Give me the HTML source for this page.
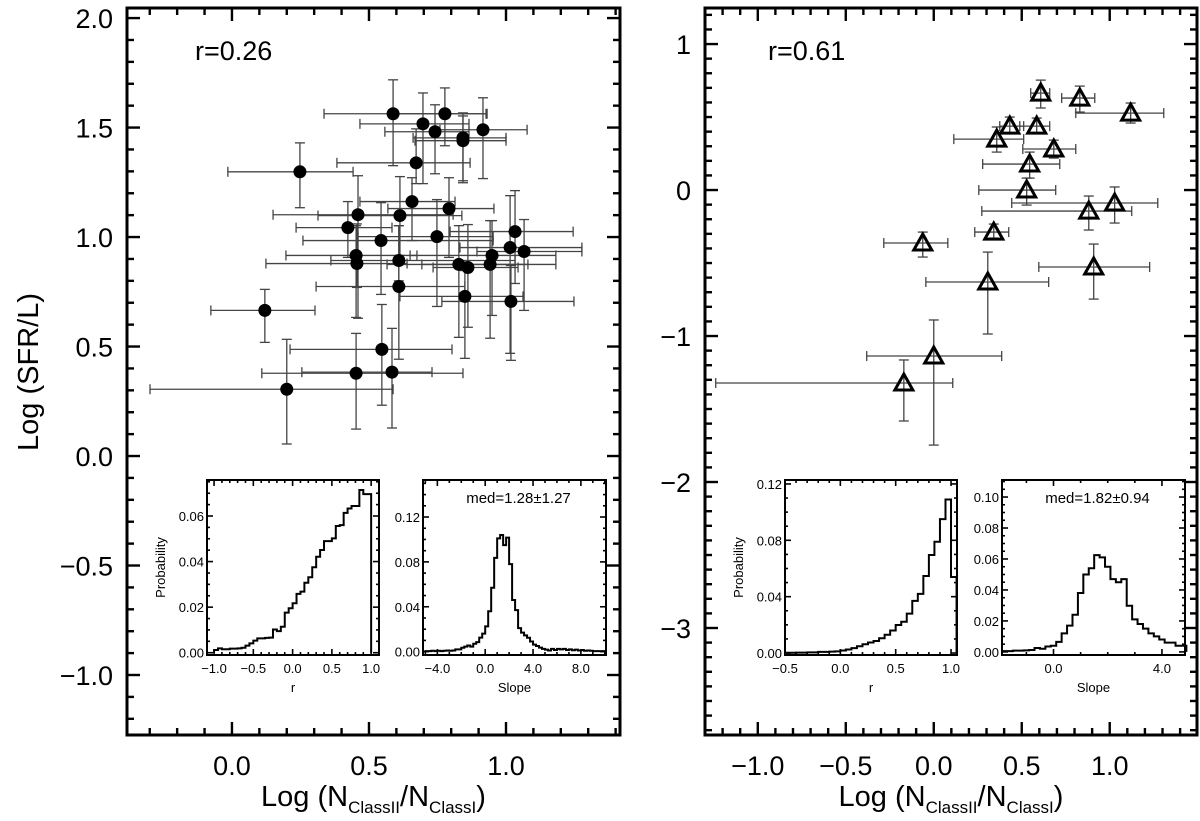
<!DOCTYPE html>
<html><head><meta charset="utf-8"><style>
html,body{margin:0;padding:0;background:#fff}
svg{display:block;font-family:"Liberation Sans",Arial,sans-serif}
</style></head><body>
<svg id="fig" width="1200" height="821" viewBox="0 0 1200 821"></svg>
<script>
// ---- Left panel data: filled circles ----
const leftX   =[0.588,0.697,0.777,0.741,0.843,0.843,0.916,0.672,0.248,0.46,0.613,0.657,0.792,0.423,0.544,0.748,1.033,1.015,1.066,0.453,0.456,0.609,0.828,0.861,0.942,0.949,0.609,0.85,1.018,0.12,0.547,0.453,0.584,0.2];
const leftXlo =[0.336,0.467,0.602,0.558,0.661,0.668,0.759,0.383,-0.015,0.15,0.314,0.467,0.569,0.234,0.259,0.46,0.796,0.832,0.894,0.197,0.124,0.361,0.566,0.734,0.693,0.65,0.307,0.613,0.766,-0.077,0.212,0.109,0.255,-0.299];
const leftXhi =[0.927,0.865,0.931,0.865,1.0,1.0,1.077,0.869,0.442,0.807,0.839,0.814,0.956,0.584,0.953,0.953,1.245,1.277,1.277,0.675,0.639,1.033,1.08,1.044,1.182,1.182,0.85,1.062,1.248,0.303,0.803,0.843,0.73,0.588];
const leftY   =[1.563,1.517,1.563,1.481,1.453,1.44,1.49,1.339,1.298,1.102,1.098,1.162,1.13,1.043,0.984,1.002,1.025,0.952,0.934,0.916,0.879,0.893,0.875,0.861,0.875,0.916,0.774,0.729,0.706,0.665,0.487,0.378,0.383,0.305];
const leftYlo =[1.326,1.244,1.417,1.289,1.257,1.248,1.267,1.244,1.134,0.629,0.916,0.984,0.907,0.907,0.738,0.683,0.788,0.469,0.665,0.633,0.77,0.8,0.542,0.588,0.538,0.642,0.442,0.446,0.437,0.519,0.232,0.123,0.128,0.055];
const leftYhi =[1.718,1.658,1.681,1.604,1.567,1.553,1.636,1.494,1.43,1.28,1.276,1.271,1.271,1.162,1.157,1.171,1.212,1.189,1.08,1.052,1.06,1.052,1.052,1.057,1.075,1.075,1.052,0.847,0.87,0.761,0.692,0.56,0.583,0.533];
// ---- Right panel data: open triangles ----
const rightX   =[0.608,0.83,1.119,0.432,0.585,0.358,0.682,0.545,0.528,1.028,0.881,0.341,-0.0625,0.909,0.307,0.0,-0.17];
const rightXlo =[0.551,0.727,0.807,0.375,0.489,0.114,0.506,0.278,0.256,0.443,0.273,0.233,-0.284,0.597,-0.045,-0.381,-1.239];
const rightXhi =[0.659,0.915,1.307,0.511,0.659,0.511,0.807,0.716,0.693,1.273,1.125,0.426,0.08,1.227,0.653,0.386,0.108];
const rightY   =[0.664,0.63,0.527,0.438,0.438,0.349,0.281,0.178,0.0,-0.089,-0.144,-0.288,-0.363,-0.527,-0.63,-1.137,-1.322];
const rightYlo =[0.562,0.534,0.459,0.39,0.39,0.26,0.219,0.082,-0.103,-0.226,-0.274,-0.329,-0.459,-0.747,-0.986,-1.747,-1.582];
const rightYhi =[0.753,0.712,0.596,0.5,0.493,0.432,0.342,0.26,0.082,0.021,-0.041,-0.233,-0.288,-0.37,-0.425,-0.89,-1.164];
// ---- Inset histograms ----
const histLR_start=-1.0, histLR_w=0.05;
const histLR=[0.0012,0.0019,0.0015,0.0015,0.0018,0.0018,0.0019,0.0022,0.0031,0.0041,0.0053,0.0063,0.0063,0.0065,0.0066,0.0102,0.0095,0.0114,0.0176,0.0195,0.0217,0.0258,0.0268,0.0307,0.0331,0.0375,0.0421,0.0451,0.049,0.049,0.0502,0.0556,0.056,0.0614,0.0633,0.0644,0.0644,0.0714,0.0696,0.0696];
const histLS_start=-5.0, histLS_w=0.25;
const histLS=[0.0005,0.0005,0.0008,0.0005,0.0008,0.0005,0.0008,0.001,0.0008,0.001,0.002,0.002,0.0035,0.0045,0.0055,0.0045,0.007,0.0085,0.0125,0.016,0.0225,0.036,0.057,0.0836,0.101,0.104,0.095,0.1016,0.078,0.046,0.037,0.021,0.017,0.0145,0.0124,0.009,0.0062,0.005,0.0036,0.0025,0.0018,0.001,0.0025,0.0015,0.0025,0.002,0.0025,0.0015,0.002,0.0012,0.0018,0.001,0.0015,0.0008,0.001,0.0008,0.0005,0.0005,0.0005,0.0005];
const histRR_start=-0.5, histRR_w=0.05;
const histRR=[0.0002,0.0002,0.0003,0.0003,0.0005,0.0005,0.0008,0.0008,0.001,0.0012,0.0018,0.0025,0.0035,0.0048,0.0062,0.0075,0.0085,0.0105,0.013,0.016,0.0199,0.0222,0.028,0.037,0.042,0.0547,0.0696,0.079,0.095,0.109,0.054];
const histRS_start=-1.9, histRS_w=0.2;
const histRS=[0.0005,0.0005,0.0008,0.0008,0.001,0.0012,0.0025,0.002,0.0035,0.004,0.0065,0.012,0.017,0.024,0.038,0.05,0.054,0.0625,0.061,0.055,0.047,0.045,0.047,0.0298,0.021,0.018,0.015,0.012,0.01,0.008,0.006,0.006,0.004,0.004];
// ---- tick labels ----
const leftXTicks=[0.0,0.5,1.0], leftXTickLabels=["0.0","0.5","1.0"];
const leftYTicks=[-1.0,-0.5,0.0,0.5,1.0,1.5,2.0], leftYTickLabels=["\u22121.0","\u22120.5","0.0","0.5","1.0","1.5","2.0"];
const rightXTicks=[-1.0,-0.5,0.0,0.5,1.0], rightXTickLabels=["\u22121.0","\u22120.5","0.0","0.5","1.0"];
const rightYTicks=[-3,-2,-1,0,1], rightYTickLabels=["\u22123","\u22122","\u22121","0","1"];

const NS="http://www.w3.org/2000/svg";
const svg=document.getElementById('fig');
function mk(tag,attrs,parent,text){const e=document.createElementNS(NS,tag);for(const k in attrs)e.setAttribute(k,attrs[k]);if(text!==undefined)e.textContent=text;(parent||svg).appendChild(e);return e;}
function lin(d0,d1,p0,p1){return v=>p0+(v-d0)*(p1-p0)/(d1-d0);}

function frameAxes(g,L,T,R,B,sx,sy,xr,yr,xmaj,xmin,ymaj,ymin,majLen,minLen,lw){
  mk('rect',{x:L,y:T,width:R-L,height:B-T,fill:'none',stroke:'#000','stroke-width':lw},g);
  const eps=1e-6;
  for(let v=Math.ceil(xr[0]/xmin-eps)*xmin; v<=xr[1]+eps; v+=xmin){
    const isMaj=Math.abs(v/xmaj-Math.round(v/xmaj))<1e-4; const len=isMaj?majLen:minLen; const x=sx(v);
    mk('line',{x1:x,y1:B,x2:x,y2:B-len,stroke:'#000','stroke-width':lw*0.8},g);
    mk('line',{x1:x,y1:T,x2:x,y2:T+len,stroke:'#000','stroke-width':lw*0.8},g);
  }
  for(let v=Math.ceil(yr[0]/ymin-eps)*ymin; v<=yr[1]+eps; v+=ymin){
    const isMaj=Math.abs(v/ymaj-Math.round(v/ymaj))<1e-4; const len=isMaj?majLen:minLen; const y=sy(v);
    mk('line',{x1:L,y1:y,x2:L+len,y2:y,stroke:'#000','stroke-width':lw*0.8},g);
    mk('line',{x1:R,y1:y,x2:R-len,y2:y,stroke:'#000','stroke-width':lw*0.8},g);
  }
}

function mainPanel(name,L,T,R,B,xr,yr,xT,xTL,yT,yTL,ymaj,X,Xlo,Xhi,Y,Ylo,Yhi,marker,rtext,rx){
  const g=mk('g',{},svg);  
  const sx=lin(xr[0],xr[1],L,R), sy=lin(yr[0],yr[1],B,T);
  const eg=mk('g',{stroke:'#444','stroke-width':1.3,fill:'none'},g);
   
  for(let i=0;i<X.length;i++){
    const x=sx(X[i]),y=sy(Y[i]),x0=sx(Xlo[i]),x1=sx(Xhi[i]),y0=sy(Ylo[i]),y1=sy(Yhi[i]);
    mk('line',{x1:x0,y1:y,x2:x1,y2:y},eg);
    mk('line',{x1:x0,y1:y-5,x2:x0,y2:y+5},eg);mk('line',{x1:x1,y1:y-5,x2:x1,y2:y+5},eg);
    mk('line',{x1:x,y1:y0,x2:x,y2:y1},eg);
    mk('line',{x1:x-5,y1:y0,x2:x+5,y2:y0},eg);mk('line',{x1:x-5,y1:y1,x2:x+5,y2:y1},eg);
  }
  for(let i=0;i<X.length;i++){
    const x=sx(X[i]),y=sy(Y[i]); let m;
    if(marker==='circle'){ m=mk('circle',{cx:x,cy:y,r:6.5,fill:'#000'},g); }
    else { m=mk('polygon',{points:`${x},${y-9} ${x+9},${y+7} ${x-9},${y+7}`,fill:'none',stroke:'#000','stroke-width':3,'stroke-linejoin':'miter'},g); }
     
  }
  frameAxes(g,L,T,R,B,sx,sy,xr,yr,0.5,0.1,ymaj,0.1,13,7,3);
  xT.forEach((v,i)=>{const t=mk('text',{x:sx(v),y:B+40,'font-size':27,'text-anchor':'middle'},g,xTL[i]);
    });
  yT.forEach((v,i)=>{const t=mk('text',{x:L-14,y:sy(v)+10,'font-size':27,'text-anchor':'end'},g,yTL[i]);
    });
  const rt=mk('text',{x:rx,y:60,'font-size':27},g,rtext);  
  const xt=mk('text',{x:(L+R)/2,y:806,'font-size':29,'text-anchor':'middle'},g);
   
  mk('tspan',{},xt,'Log (N');mk('tspan',{'font-size':17,dy:7},xt,'ClassII');mk('tspan',{dy:-7},xt,'/N');
  mk('tspan',{'font-size':17,dy:7},xt,'ClassI');mk('tspan',{dy:-7},xt,')');
  return {sx,sy};
}

function inset(name,L,T,R,B,xr,yr,xT,xTL,xmin,yT,yTL,ymin,start,w,vals,xlabel,ylabel,med){
  const g=mk('g',{},svg);  
  const sx=lin(xr[0],xr[1],L,R), sy=lin(yr[0],yr[1],B,T);
  mk('rect',{x:L,y:T,width:R-L,height:B-T,fill:'#fff'},g);
  let d=`M${sx(start)},${sy(0)}`;
  vals.forEach((v,i)=>{const a=sx(start+i*w),b=sx(start+(i+1)*w);d+=` L${a},${sy(v)} L${b},${sy(v)}`;});
  d+=` L${sx(start+vals.length*w)},${sy(0)}`;
  const p=mk('path',{d:d,fill:'none',stroke:'#000','stroke-width':2},g);
   
  const xmaj=xT[1]-xT[0], ymaj=yT[1]-yT[0];
  frameAxes(g,L,T,R,B,sx,sy,xr,yr,xmaj,xmin,ymaj,ymin,6,3,2);
  xT.forEach((v,i)=>{const t=mk('text',{x:sx(v),y:B+18,'font-size':13,'text-anchor':'middle'},g,xTL[i]);
    });
  yT.forEach((v,i)=>{const t=mk('text',{x:L-3,y:sy(v)+5,'font-size':13,'text-anchor':'end'},g,yTL[i]);
    });
  const xl=mk('text',{x:(L+R)/2,y:B+37,'font-size':13,'text-anchor':'middle'},g,xlabel);
  
  if(ylabel){const yl=mk('text',{x:0,y:0,'font-size':13,'text-anchor':'middle',transform:`translate(${L-42},${(T+B)/2}) rotate(-90)`},g,ylabel);
    }
  if(med){const mt=mk('text',{x:(L+R)/2+4,y:T+23,'font-size':15,'text-anchor':'middle'},g,med);
    }
}

mainPanel('left-panel',127,8,620,735,[-0.383,1.416],[-1.274,2.046],leftXTicks,leftXTickLabels,leftYTicks,leftYTickLabels,0.5,
  leftX,leftXlo,leftXhi,leftY,leftYlo,leftYhi,'circle','r=0.26',195);
mainPanel('right-panel',705,8,1197,735,[-1.3,1.496],[-3.733,1.247],rightXTicks,rightXTickLabels,rightYTicks,rightYTickLabels,1,
  rightX,rightXlo,rightXhi,rightY,rightYlo,rightYhi,'triangle','r=0.61',768);

const yt=mk('text',{x:0,y:0,'font-size':29,'text-anchor':'middle',transform:'translate(38,372) rotate(-90)'},svg,'Log (SFR/L)');
 

inset('inset-left-r',207,480,379,655,[-1.09,1.1],[-0.001,0.0758],[-1.0,-0.5,0.0,0.5,1.0],["\u22121.0","\u22120.5","0.0","0.5","1.0"],0.1,
  [0,0.02,0.04,0.06],["0.00","0.02","0.04","0.06"],0.005,histLR_start,histLR_w,histLR,'r','Probability',null);
inset('inset-left-slope',423,480,606,655,[-5.2,10.1],[-0.003,0.153],[-4,0,4,8],["\u22124.0","0.0","4.0","8.0"],1,
  [0,0.04,0.08,0.12],["0.00","0.04","0.08","0.12"],0.01,histLS_start,histLS_w,histLS,'Slope',null,'med=1.28\u00b11.27');
inset('inset-right-r',785,480,957,655,[-0.5,1.054],[-0.0014,0.1228],[-0.5,0.0,0.5,1.0],["\u22120.5","0.0","0.5","1.0"],0.1,
  [0,0.04,0.08,0.12],["0.00","0.04","0.08","0.12"],0.01,histRR_start,histRR_w,histRR,'r','Probability',null);
inset('inset-right-slope',1002,480,1185,655,[-1.9,4.85],[-0.002,0.111],[0,4],["0.0","4.0"],1,
  [0,0.02,0.04,0.06,0.08,0.10],["0.00","0.02","0.04","0.06","0.08","0.10"],0.005,histRS_start,histRS_w,histRS,'Slope',null,'med=1.82\u00b10.94');
</script>
</body></html>
